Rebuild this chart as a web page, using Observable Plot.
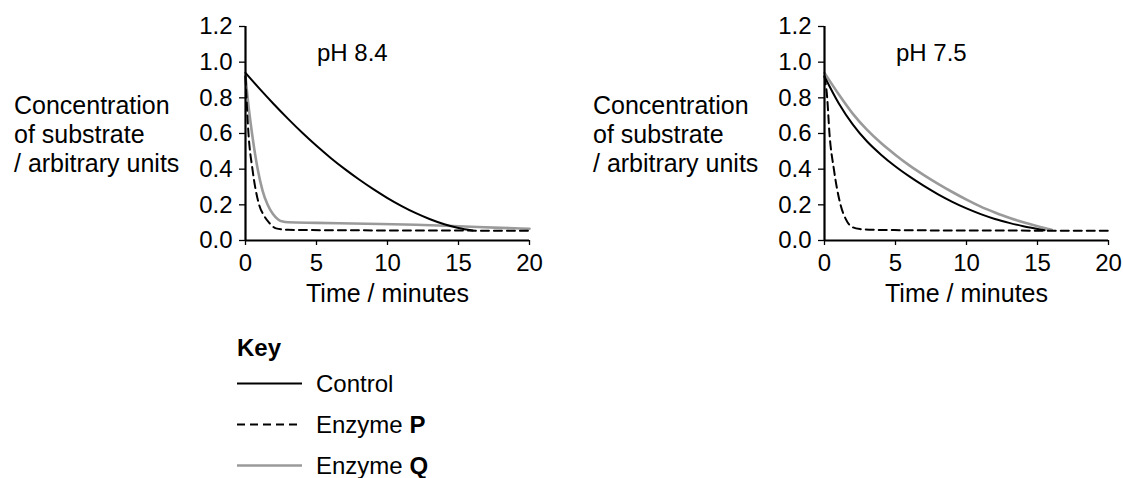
<!DOCTYPE html>
<html><head><meta charset="utf-8">
<script src="https://cdn.jsdelivr.net/npm/d3@7"></script>
<script src="https://cdn.jsdelivr.net/npm/@observablehq/plot@0.6"></script>
<style>
body{margin:0;background:#fff;font-family:"Liberation Sans",Arial,sans-serif;}
#root{position:relative;width:1123px;height:478px;overflow:hidden;background:#fff;}
.panel{position:absolute;top:0;}
#key{position:absolute;left:237px;top:333px;font-size:24px;color:#000;}
#key .head{font-weight:bold;height:30px;line-height:30px;font-size:24px;}
#key .row{display:flex;align-items:center;height:41px;}
#key .row svg{display:block;margin-right:14px;}
</style></head><body><div id="root"></div>
<script>
// ---- data ----
const xTicks = [0, 5, 10, 15, 20];
const yTicks = [0, 0.2, 0.4, 0.6, 0.8, 1.0, 1.2];
const xLabel = "Time / minutes";
const yLabel = "Concentration\nof substrate\n/ arbitrary units";
const panelTitles = ["pH 8.4", "pH 7.5"];
const seriesNames = ["Control", "Enzyme P", "Enzyme Q"];

// pH 8.4
const control84T = [0,1,2,3,4,5,6,7,8,9,10,11,12,13,14,15,16];
const control84V = [0.94,0.85,0.764,0.682,0.604,0.531,0.463,0.4,0.342,0.288,0.238,0.193,0.153,0.119,0.091,0.07,0.056];
const enzP84T = [0,0.07,0.21,0.49,0.96,1.3,1.66,2.15,3,8,20];
const enzP84V = [0.92,0.8,0.6,0.4,0.2,0.14,0.1,0.068,0.06,0.057,0.055];
const enzQ84T = [0,0.15,0.46,0.86,1.2,1.56,1.92,2.3,2.62,3,5,8.5,12,15,18,20];
const enzQ84V = [0.92,0.8,0.6,0.4,0.28,0.2,0.15,0.118,0.106,0.102,0.099,0.094,0.088,0.08,0.071,0.066];

// pH 7.5
const control75T = [0,1,2,3,4,5,6,7,8,9,10,11,12,13,14,15,15.5];
const control75V = [0.92,0.77,0.65,0.555,0.48,0.415,0.358,0.306,0.259,0.217,0.18,0.148,0.121,0.099,0.08,0.065,0.058];
const enzP75T = [0,0.19,0.35,0.66,1.13,1.5,1.96,2.5,3.4,10,20];
const enzP75V = [0.92,0.8,0.6,0.4,0.2,0.12,0.075,0.064,0.06,0.056,0.055];
const enzQ75T = [0,1,2,3,4,5,6,7,8,9,10,11,12,13,14,15,16];
const enzQ75V = [0.94,0.82,0.71,0.62,0.545,0.48,0.42,0.367,0.318,0.272,0.229,0.19,0.157,0.127,0.102,0.08,0.06];

// ---- styles ----
const styles = {
  "Control":  {stroke: "#000", strokeWidth: 2},
  "Enzyme P": {stroke: "#000", strokeWidth: 2, strokeDasharray: "8,5"},
  "Enzyme Q": {stroke: "#9a9a9a", strokeWidth: 2.6}
};
const FONT = '"Liberation Sans", Arial, Helvetica, sans-serif';

function rows(t, v) { return t.map((d, i) => ({t: d, v: v[i]})); }

function panel(title, data) {
  const order = ["Enzyme Q", "Enzyme P", "Control"];
  return Plot.plot({
    width: 549, height: 310,
    marginLeft: 245, marginRight: 20, marginTop: 26, marginBottom: 70,
    x: {domain: [0, 20]},
    y: {domain: [0, 1.2]},
    style: {fontFamily: FONT, fontSize: "24px", color: "#000", background: "#fff", overflow: "visible"},
    marks: [
      Plot.axisY({ticks: yTicks, tickFormat: d => d.toFixed(1), tickSize: 6, tickPadding: 7, label: null, strokeWidth: 1.3, fontSize: 24}),
      Plot.axisX({ticks: xTicks, tickSize: 5, tickPadding: 8, label: null, strokeWidth: 1.3, fontSize: 24}),
      ...order.map(name => Plot.line(rows(data[name][0], data[name][1]), {x: "t", y: "v", curve: "monotone-x", ...styles[name]})),
      Plot.ruleX([0], {y1: 0, y2: 1.2, strokeWidth: 2.2}),
      Plot.ruleY([0], {x1: 0, x2: 20, strokeWidth: 2.2}),
      Plot.text([yLabel], {text: d => d, frameAnchor: "left", dx: -231.5, textAnchor: "start", lineAnchor: "middle", lineHeight: 1.16, fontSize: 25}),
      Plot.text([title], {text: d => d, frameAnchor: "top-left", dx: 71.5, dy: 27.3, textAnchor: "start", lineAnchor: "middle", fontSize: 24}),
      Plot.text([xLabel], {text: d => d, frameAnchor: "bottom", dy: 53, lineAnchor: "middle", fontSize: 25})
    ]
  });
}

const root = document.getElementById("root");
const p1 = panel(panelTitles[0], {
  "Control": [control84T, control84V], "Enzyme P": [enzP84T, enzP84V], "Enzyme Q": [enzQ84T, enzQ84V]
});
p1.classList.add("panel"); p1.style.left = "0px";
root.appendChild(p1);
const p2 = panel(panelTitles[1], {
  "Control": [control75T, control75V], "Enzyme P": [enzP75T, enzP75V], "Enzyme Q": [enzQ75T, enzQ75V]
});
p2.classList.add("panel"); p2.style.left = "579px";
root.appendChild(p2);

// ---- key ----
const key = document.createElement("div");
key.id = "key";
const head = document.createElement("div");
head.className = "head"; head.textContent = "Key";
key.appendChild(head);
const NS = "http://www.w3.org/2000/svg";
for (const name of seriesNames) {
  const row = document.createElement("div");
  row.className = "row";
  const svg = document.createElementNS(NS, "svg");
  svg.setAttribute("width", 65); svg.setAttribute("height", 41);
  const ln = document.createElementNS(NS, "line");
  ln.setAttribute("x1", 0); ln.setAttribute("x2", 65);
  ln.setAttribute("y1", 20.5); ln.setAttribute("y2", 20.5);
  const s = styles[name];
  ln.setAttribute("stroke", s.stroke);
  ln.setAttribute("stroke-width", s.strokeWidth);
  if (s.strokeDasharray) ln.setAttribute("stroke-dasharray", s.strokeDasharray);
  svg.appendChild(ln);
  row.appendChild(svg);
  const label = document.createElement("span");
  const parts = name.split(" ");
  if (parts.length > 1) {
    label.appendChild(document.createTextNode(parts[0] + " "));
    const b = document.createElement("b");
    b.textContent = parts[1];
    label.appendChild(b);
  } else {
    label.textContent = name;
  }
  row.appendChild(label);
  key.appendChild(row);
}
root.appendChild(key);
</script></body></html>
